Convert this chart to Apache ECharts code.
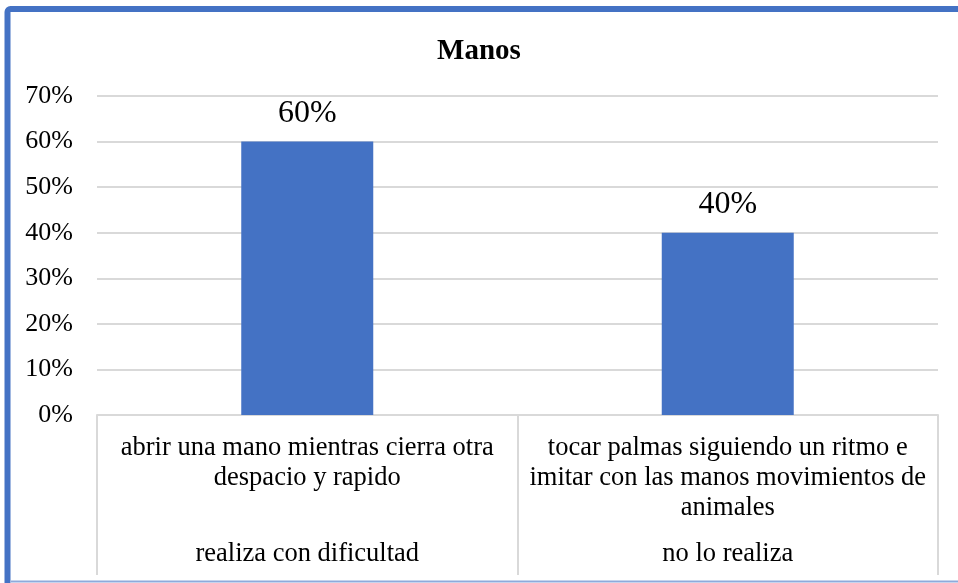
<!DOCTYPE html>
<html>
<head>
<meta charset="utf-8">
<script src="https://cdn.jsdelivr.net/npm/echarts@6/dist/echarts.min.js"></script>
<style>
  html, body { margin: 0; padding: 0; background: #fff; }
  #chart { width: 958px; height: 583px; }
</style>
</head>
<body>
<div id="chart"></div>
<script>
const chart = echarts.init(document.getElementById('chart'));

// datos
const titulo = 'Manos';
const actividades = [
    'abrir una mano mientras cierra otra\ndespacio y rapido',
    'tocar palmas siguiendo un ritmo e\nimitar con las manos movimientos de\nanimales'
];
const niveles = ['realiza con dificultad', 'no lo realiza'];
const porcentajes = [60, 40];

const serif = '"Liberation Serif", "Times New Roman", serif';
const gris = '#d9d9d9';

chart.setOption({
    backgroundColor: '#fff',
    textStyle: { fontFamily: serif, color: '#000' },
    title: {
        text: titulo,
        left: 'center',
        top: 32,
        textStyle: { fontFamily: serif, fontSize: 29, fontWeight: 'bold', color: '#000' }
    },
    graphic: [
        { type: 'rect', shape: { x: 7.5, y: 9, width: 1000, height: 1000, r: 3 },
          style: { fill: 'none', stroke: '#4472c4', lineWidth: 6 }, silent: true },
        { type: 'line', shape: { x1: 11, y1: 581.5, x2: 958, y2: 581.5 },
          style: { stroke: '#8eaadb', lineWidth: 2 }, silent: true }
    ],
    grid: { left: 97, right: 20, top: 96, bottom: 168, containLabel: false },
    xAxis: [
        {
            type: 'category',
            data: actividades,
            axisLine: { lineStyle: { color: gris, width: 2 } },
            axisTick: { show: true, length: 160, lineStyle: { color: gris, width: 2 } },
            axisLabel: {
                interval: 0, margin: 18, fontSize: 26.5, lineHeight: 30,
                color: '#000', fontFamily: serif, align: 'center'
            }
        },
        {
            type: 'category',
            data: niveles,
            position: 'bottom',
            offset: 110,
            axisLine: { show: false },
            axisTick: { show: false },
            axisLabel: { interval: 0, margin: 16, fontSize: 26.5, color: '#000', fontFamily: serif }
        }
    ],
    yAxis: {
        type: 'value',
        min: 0,
        max: 70,
        interval: 10,
        axisLine: { show: false },
        axisTick: { show: false },
        splitLine: { lineStyle: { color: gris, width: 2 } },
        axisLabel: {
            formatter: '{value}%', fontSize: 26, margin: 24,
            color: '#000', fontFamily: serif
        }
    },
    series: [{
        type: 'bar',
        data: porcentajes,
        barWidth: 132,
        itemStyle: { color: '#4472c4' },
        label: {
            show: true, position: 'top', distance: 12,
            formatter: '{c}%', fontSize: 32, color: '#000', fontFamily: serif
        }
    }]
});
</script>
</body>
</html>
